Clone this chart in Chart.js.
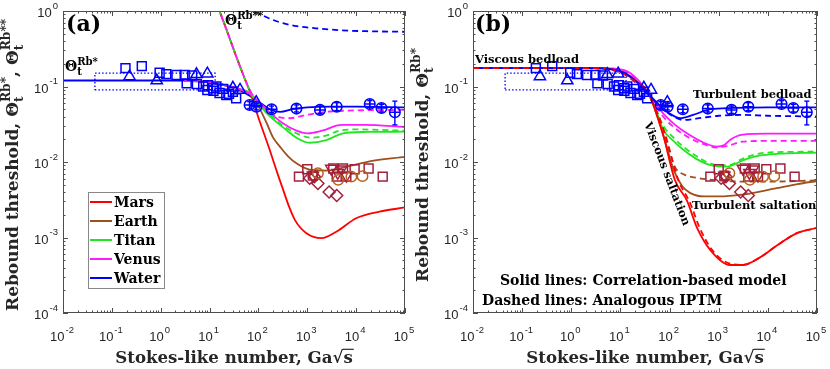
<!DOCTYPE html>
<html>
<head>
<meta charset="utf-8">
<script src="https://cdn.jsdelivr.net/npm/chart.js@4/dist/chart.umd.min.js"></script>
<style>
  html, body { margin: 0; padding: 0; background: #fff; }
  #wrap { position: relative; width: 830px; height: 369px; overflow: hidden; }
  canvas { position: absolute; top: 0; }
</style>
</head>
<body>
<div id="wrap">
  <canvas id="chartA" width="420" height="369" style="left:0"></canvas>
  <canvas id="chartB" width="430" height="369" style="left:400px"></canvas>
</div>
<script>
// decades for tick labels
const decX = [-2, -1, 0, 1, 2, 3, 4, 5]
const decY = [-4, -3, -2, -1, 0]

const planets = ['Mars', 'Earth', 'Titan', 'Venus', 'Water']
const cores = { Mars: '#ff0000', Earth: '#a0501c', Titan: '#22e622', Venus: '#ff1aff', Water: '#0000ff' }
const corDados = '#a3203c'
const corCirc = '#b5621b'

// ---- panel (a): solid = Θt^Rb*, dashed = Θt^Rb**
const waterA = [[0.01, 0.12], [3, 0.12], [6, 0.118], [10, 0.113], [20, 0.104], [40, 0.09], [70, 0.074], [120, 0.058], [180, 0.049], [280, 0.046], [500, 0.05], [1000, 0.053], [3000, 0.054], [1e4, 0.054], [1e5, 0.053]]
const venusA = [[3, 0.12], [10, 0.114], [20, 0.105], [40, 0.093], [66, 0.081], [100, 0.063], [148, 0.049], [316, 0.0326], [600, 0.026], [1000, 0.024], [2000, 0.026], [5000, 0.031], [1.5e4, 0.031], [1e5, 0.029]]
const titanA = [[3, 0.12], [10, 0.114], [20, 0.105], [40, 0.093], [66, 0.082], [100, 0.06], [148, 0.044], [316, 0.029], [600, 0.021], [1120, 0.018], [2450, 0.0195], [5400, 0.024], [1.6e4, 0.025], [1e5, 0.0252]]
const earthA = [[3, 0.12], [10, 0.113], [20, 0.104], [40, 0.092], [70, 0.078], [100, 0.055], [148, 0.0326], [200, 0.021], [275, 0.016], [400, 0.012], [600, 0.0096], [1120, 0.0079], [2500, 0.0077], [7000, 0.0088], [2e4, 0.0103], [1e5, 0.0117]]
const marsA = [[3, 0.12], [10, 0.113], [20, 0.104], [40, 0.092], [70, 0.076], [100, 0.0386], [170, 0.0145], [250, 0.0068], [316, 0.0044], [420, 0.0026], [560, 0.0017], [960, 0.00114], [1950, 0.00098], [4000, 0.0012], [1e4, 0.0018], [3e4, 0.0022], [1e5, 0.0025]]

const waterA2 = [[60, 1.2], [80, 1.0], [120, 0.88], [200, 0.76], [316, 0.69], [600, 0.63], [1500, 0.59], [5000, 0.555], [1.6e4, 0.54], [1e5, 0.53]]
const venusA2 = [[10, 2.2], [20, 0.68], [40, 0.2], [66, 0.09], [85, 0.07], [150, 0.05], [234, 0.04], [436, 0.038], [960, 0.042], [3400, 0.047], [1e5, 0.049]]
const titanA2 = [[10, 2.2], [20, 0.68], [40, 0.2], [66, 0.09], [85, 0.066], [150, 0.046], [300, 0.031], [600, 0.024], [1200, 0.021], [2500, 0.0225], [4500, 0.026], [1e4, 0.027], [1e5, 0.026]]
const earthA2 = [[10, 2.2], [20, 0.68], [40, 0.2], [66, 0.088], [70, 0.082]]
const marsA2 = [[10, 2.2], [20, 0.68], [40, 0.2], [66, 0.09], [75, 0.076]]

// ---- panel (b): solid = correlation model, dashed = IPTM
const waterB = [[0.01, 0.175], [3, 0.175], [6, 0.17], [10, 0.16], [16, 0.135], [25, 0.105], [37, 0.08], [60, 0.058], [100, 0.044], [165, 0.038], [300, 0.042], [680, 0.05], [2000, 0.052], [1e4, 0.053], [1e5, 0.053]]
const waterB2 = [[0.01, 0.175], [3, 0.175], [6, 0.168], [10, 0.155], [16, 0.13], [25, 0.1], [37, 0.08], [60, 0.056], [100, 0.043], [195, 0.036], [400, 0.038], [1000, 0.041], [3000, 0.042], [1e4, 0.041], [1e5, 0.04]]
const venusB = [[0.01, 0.175], [4, 0.175], [8, 0.172], [14, 0.158], [22, 0.125], [37, 0.082], [74, 0.044], [130, 0.031], [225, 0.024], [500, 0.018], [910, 0.016], [1300, 0.0168], [1700, 0.0196], [3100, 0.023], [1e4, 0.0237], [1e5, 0.0237]]
const venusB2 = [[0.01, 0.175], [4, 0.175], [8, 0.17], [14, 0.152], [22, 0.12], [37, 0.08], [74, 0.04], [150, 0.026], [265, 0.0205], [500, 0.0172], [910, 0.0155], [1500, 0.0163], [3100, 0.0186], [1e4, 0.019], [1e5, 0.019]]
const titanB = [[0.01, 0.175], [3, 0.175], [7, 0.17], [12, 0.153], [20, 0.123], [37, 0.08], [55, 0.045], [75, 0.0265], [120, 0.019], [190, 0.0145], [350, 0.011], [680, 0.0091], [1500, 0.0087], [3200, 0.0106], [7000, 0.0122], [1.5e4, 0.0128], [1e5, 0.0133]]
const titanB2 = [[0.01, 0.175], [3, 0.175], [7, 0.168], [12, 0.15], [20, 0.12], [37, 0.08], [55, 0.047], [75, 0.03], [120, 0.021], [190, 0.016], [350, 0.012], [680, 0.0095], [1500, 0.009], [3200, 0.0112], [7000, 0.013], [1.5e4, 0.0135], [1e5, 0.0137]]
const earthB = [[0.01, 0.175], [3, 0.175], [7, 0.168], [12, 0.15], [20, 0.12], [37, 0.082], [70, 0.026], [120, 0.008], [180, 0.0048], [260, 0.0039], [500, 0.0035], [1000, 0.0035], [3000, 0.0037], [1.5e4, 0.0045], [4e4, 0.0051], [1e5, 0.0056]]
const earthB2 = [[0.01, 0.175], [3, 0.175], [7, 0.166], [12, 0.147], [20, 0.117], [37, 0.08], [75, 0.025], [130, 0.0085], [200, 0.0068], [400, 0.0061], [1000, 0.0057], [3000, 0.0055], [1e4, 0.0055], [1e5, 0.0057]]
const marsB = [[0.01, 0.175], [3, 0.175], [7, 0.168], [12, 0.15], [20, 0.12], [37, 0.082], [74, 0.0228], [128, 0.0058], [225, 0.0031], [363, 0.00134], [676, 0.00068], [1700, 0.000432], [3150, 0.000432], [7050, 0.00055], [1.55e4, 0.00079], [4e4, 0.00115], [1e5, 0.00134]]
const marsB2 = [[0.01, 0.175], [3, 0.175], [7, 0.165], [12, 0.145], [20, 0.115], [37, 0.08], [80, 0.024], [150, 0.0058], [260, 0.0029], [410, 0.00134], [740, 0.00068], [1700, 0.00045], [3150, 0.000435], [7050, 0.00055], [1.55e4, 0.00079], [4e4, 0.00115], [1e5, 0.00134]]

// ---- experiments (same in both panels)
const caixaWater = [[0.045, 0.09], [13, 0.09], [13, 0.15], [0.045, 0.15], [0.045, 0.09]]
const sqWater = [[0.19, 0.175], [0.41, 0.186], [0.95, 0.152], [1.3, 0.146], [2.1, 0.142], [3.1, 0.142], [3.4, 0.11], [4.4, 0.14], [5.5, 0.108], [7.4, 0.1], [9.3, 0.104], [9, 0.09], [11.8, 0.095], [12, 0.088], [13.8, 0.1], [16, 0.082], [19, 0.093], [22, 0.077], [25, 0.08], [30, 0.085], [35, 0.07]]
const triWater = [[0.23, 0.136], [0.83, 0.12], [5.4, 0.145], [9, 0.148], [30, 0.096], [42, 0.09], [90, 0.062]]
const circWater = [[66, 0.057], [91, 0.054], [186, 0.05], [600, 0.051], [1820, 0.049], [4000, 0.054], [1.9e4, 0.0586], [3.3e4, 0.052], [6.2e4, 0.0455]]
const errLo = [0.051, 0.049, 0.045, 0.046, 0.044, 0.048, 0.053, 0.046, 0.031]
const errHi = [0.063, 0.06, 0.055, 0.057, 0.055, 0.061, 0.065, 0.058, 0.064]
const sqSed = [[676, 0.0064], [1000, 0.008], [1300, 0.0066], [3400, 0.0082], [4000, 0.0064], [5400, 0.0082], [6300, 0.0064], [9300, 0.008], [1.8e4, 0.0082], [3.5e4, 0.0064]]
const triSed = [[1300, 0.0066], [3100, 0.0082], [4200, 0.0072], [5000, 0.008], [6300, 0.0066]]
const diamSed = [[1120, 0.0061], [1400, 0.0064], [1650, 0.0052], [2800, 0.004], [4000, 0.0036]]
const circSed = [[1650, 0.0071], [4300, 0.0058], [8000, 0.0064], [1.35e4, 0.0065]]

const serif = '"DejaVu Serif"'
const sans = '"Liberation Sans"'
const pts = arr => arr.map(([x, y]) => ({ x, y }))

function curva(data, cor, tracejado, offset = 0) {
  return {
    type: 'line', data: pts(data), borderColor: cor, borderWidth: 1.8,
    borderDash: tracejado ? [6, 4] : [], borderDashOffset: offset,
    pointRadius: 0, fill: false, cubicInterpolationMode: 'monotone'
  }
}

function marcas(data, cor, estilo, r, rot = 0) {
  return {
    type: 'scatter', data: pts(data), pointStyle: estilo, pointRadius: r, pointRotation: rot,
    borderColor: cor, backgroundColor: 'rgba(0,0,0,0)', borderWidth: 1.5
  }
}

function experimentos() {
  const barras = circWater.flatMap(([x], i) => [{ x, y: errLo[i] }, { x, y: errHi[i] }, { x, y: null }])
  return [
    { type: 'line', data: pts(caixaWater), borderColor: cores.Water, borderWidth: 1.3, borderDash: [1.5, 2], pointRadius: 0, tension: 0 },
    marcas(sqWater, cores.Water, 'rect', 6.3),
    marcas(triWater, cores.Water, 'triangle', 6.5),
    { type: 'line', data: barras, borderColor: cores.Water, borderWidth: 1.4, pointStyle: 'line', pointRadius: 2.5, pointBorderWidth: 1.4, spanGaps: false },
    marcas(circWater, cores.Water, 'circle', 5.3),
    marcas(circWater, cores.Water, 'cross', 5.3),
    marcas(sqSed, corDados, 'rect', 6.3),
    marcas(triSed, corDados, 'triangle', 6.5, 180),
    marcas(diamSed, corDados, 'rectRot', 6),
    marcas(circSed, corCirc, 'circle', 5.2)
  ]
}

function runMath(ctx, parts, size, x, y, draw) {
  let cx = x
  parts.forEach(p => {
    ctx.font = `bold ${size}px ${serif}`
    const w = ctx.measureText(p.t).width
    if (draw) ctx.fillText(p.t, cx, y)
    if (draw && p.bar) ctx.fillRect(cx - 0.5, y - size * 0.86, w + 1.5, Math.max(1, size * 0.07))
    cx += w
    if (p.sub || p.sup) {
      const s = size * 0.72
      ctx.font = `bold ${s}px ${serif}`
      const ws = p.sub ? ctx.measureText(p.sub).width : 0
      const wp = p.sup ? ctx.measureText(p.sup).width : 0
      if (draw && p.sub) ctx.fillText(p.sub, cx, y + size * 0.3)
      if (draw && p.sup) ctx.fillText(p.sup, cx, y - size * 0.45)
      cx += Math.max(ws, wp)
    }
  })
  return cx - x
}

function textoB(ctx, txt, size, x, y) {
  ctx.font = `bold ${size}px ${serif}`
  ctx.fillText(txt, x, y)
}

function sciLabel(ctx, x, y, exp, align) {
  ctx.font = `13px ${sans}`
  const wb = ctx.measureText('10').width
  ctx.font = `9.5px ${sans}`
  const we = ctx.measureText(exp).width + 1
  const left = align === 'right' ? x - wb - we : x - (wb + we) / 2
  ctx.font = `13px ${sans}`
  ctx.fillText('10', left, y)
  ctx.font = `9.5px ${sans}`
  ctx.fillText(exp, left + wb + 1, y - 8.5)
}

function moldura(chart) {
  const { ctx, chartArea: a, scales: { x, y } } = chart
  ctx.save()
  ctx.strokeStyle = '#4d4d4d'
  ctx.lineWidth = 1
  ctx.beginPath()
  decX.forEach((d, k) => {
    for (let m = 1; m < 10; m++) {
      if (k === decX.length - 1 && m > 1) break
      const px = Math.round(x.getPixelForValue(m * 10 ** d)) + 0.5
      const len = m === 1 ? 5 : 2.5
      ctx.moveTo(px, a.bottom); ctx.lineTo(px, a.bottom - len)
      ctx.moveTo(px, a.top); ctx.lineTo(px, a.top + len)
    }
  })
  decY.forEach((d, k) => {
    for (let m = 1; m < 10; m++) {
      if (k === decY.length - 1 && m > 1) break
      const py = Math.round(y.getPixelForValue(m * 10 ** d)) + 0.5
      const len = m === 1 ? 5 : 2.5
      ctx.moveTo(a.left, py); ctx.lineTo(a.left + len, py)
      ctx.moveTo(a.right, py); ctx.lineTo(a.right - len, py)
    }
  })
  ctx.stroke()
  ctx.strokeRect(a.left + 0.5, a.top + 0.5, a.width - 1, a.height - 1)

  ctx.fillStyle = '#262626'
  ctx.textBaseline = 'alphabetic'
  decX.forEach(d => sciLabel(ctx, x.getPixelForValue(10 ** d) - 1, a.bottom + 28, String(d), 'center'))
  decY.forEach(d => sciLabel(ctx, a.left - 5, y.getPixelForValue(10 ** d) + 6, String(d), 'right'))

  // x title
  const tx = [{ t: 'Stokes-like number, Ga√' }, { t: 's', bar: true }]
  const w = runMath(ctx, tx, 16.6, 0, 0, false)
  runMath(ctx, tx, 16.6, (a.left + a.right) / 2 - w / 2, 363, true)
  ctx.restore()
}

function tituloY(ctx, parts, bx, by) {
  ctx.save()
  ctx.fillStyle = '#262626'
  ctx.translate(bx, by)
  ctx.rotate(-Math.PI / 2)
  runMath(ctx, parts, 17, 0, 0, true)
  ctx.restore()
}

const extrasA = {
  id: 'extrasA',
  afterDatasetsDraw(chart) {
    const { ctx } = chart
    moldura(chart)
    ctx.save()
    ctx.fillStyle = '#000'
    tituloY(ctx, [{ t: 'Rebound threshold, ' }, { t: 'Θ', sub: 't', sup: 'Rb*' }, { t: ', ' }, { t: 'Θ', sub: 't', sup: 'Rb**' }], 18, 311)
    textoB(ctx, '(a)', 22, 66, 31)
    runMath(ctx, [{ t: 'Θ', sub: 't', sup: 'Rb*' }], 14, 65, 71, true)
    runMath(ctx, [{ t: 'Θ', sub: 't', sup: 'Rb**' }], 14, 225, 25, true)

    // legend
    ctx.fillStyle = '#fff'
    ctx.fillRect(88, 192, 76, 96)
    ctx.strokeStyle = '#888'
    ctx.lineWidth = 1
    ctx.strokeRect(88.5, 192.5, 76, 96)
    planets.forEach((p, i) => {
      const yy = 202 + i * 19
      ctx.strokeStyle = cores[p]
      ctx.lineWidth = 2
      ctx.beginPath(); ctx.moveTo(90, yy); ctx.lineTo(112, yy); ctx.stroke()
      ctx.fillStyle = '#000'
      textoB(ctx, p, 14, 114, yy + 5)
    })
    ctx.restore()
  }
}

const extrasB = {
  id: 'extrasB',
  afterDatasetsDraw(chart) {
    const { ctx } = chart
    moldura(chart)
    ctx.save()
    ctx.fillStyle = '#000'
    tituloY(ctx, [{ t: 'Rebound threshold, ' }, { t: 'Θ', sub: 't', sup: 'Rb*' }], 28, 282)
    textoB(ctx, '(b)', 22, 75, 31)
    textoB(ctx, 'Viscous bedload', 11.5, 75, 63)
    textoB(ctx, 'Turbulent bedload', 11.5, 293, 98)
    textoB(ctx, 'Turbulent saltation', 11.5, 292, 209)
    textoB(ctx, 'Solid lines: Correlation-based model', 14, 100, 285)
    textoB(ctx, 'Dashed lines: Analogous IPTM', 14, 82, 305)
    ctx.save()
    ctx.translate(261, 176)
    ctx.rotate(69 * Math.PI / 180)
    ctx.font = `bold 11.5px ${serif}`
    ctx.textAlign = 'center'
    ctx.fillText('Viscous saltation', 0, -3)
    ctx.restore()
    ctx.restore()
  }
}

function opcoes(padLeft, padRight) {
  return {
    responsive: false,
    animation: false,
    events: [],
    devicePixelRatio: 1,
    layout: { padding: { left: padLeft, right: padRight, top: 11, bottom: 56 } },
    plugins: { legend: { display: false }, tooltip: { enabled: false } },
    scales: {
      x: { type: 'logarithmic', min: 0.01, max: 1e5, display: false },
      y: { type: 'logarithmic', min: 1e-4, max: 1, display: false }
    }
  }
}

// bottom -> top
const dsA = [
  curva(waterA, cores.Water),
  curva(marsA, cores.Mars),
  curva(earthA, cores.Earth),
  curva(titanA, cores.Titan),
  curva(venusA, cores.Venus),
  curva(waterA2, cores.Water, true),
  curva(marsA2, cores.Mars, true, 0),
  curva(earthA2, cores.Earth, true, 2.5),
  curva(titanA2, cores.Titan, true, 5),
  curva(venusA2, cores.Venus, true, 7.5),
  ...experimentos()
]
dsA.forEach((d, i) => { d.order = -i })

const dsB = [
  curva(earthB2, cores.Earth, true),
  curva(earthB, cores.Earth),
  curva(titanB2, cores.Titan, true),
  curva(titanB, cores.Titan),
  curva(venusB2, cores.Venus, true),
  curva(venusB, cores.Venus),
  curva(marsB, cores.Mars),
  curva(waterB2, cores.Water, true),
  curva(waterB, cores.Water),
  curva(marsB2, cores.Mars, true),
  ...experimentos()
]
dsB.forEach((d, i) => { d.order = -i })

new Chart(document.getElementById('chartA'), {
  type: 'scatter',
  data: { datasets: dsA },
  options: opcoes(63, 15),
  plugins: [extrasA]
})

new Chart(document.getElementById('chartB'), {
  type: 'scatter',
  data: { datasets: dsB },
  options: opcoes(73, 13),
  plugins: [extrasB]
})
</script>
</body>
</html>
